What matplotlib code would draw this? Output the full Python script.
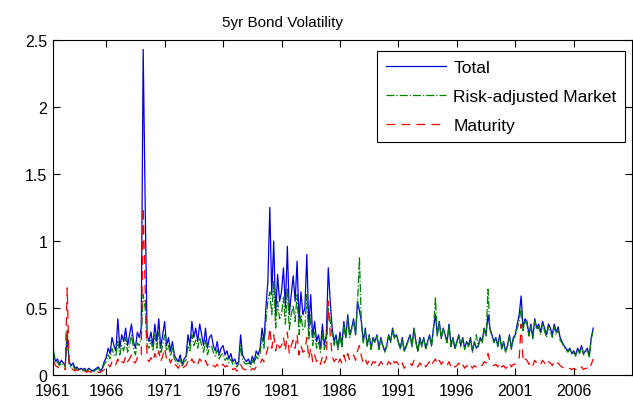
import numpy as np
import matplotlib
matplotlib.use("Agg")
import matplotlib.pyplot as plt
from matplotlib.ticker import FormatStrFormatter

# bimonthly readings, starting mid-1961 (first row is the second half of 1961)
total = [
    0.16, 0.10, 0.12,
    0.08, 0.11, 0.09, 0.07, 0.30, 0.10,
    0.07, 0.09, 0.05, 0.06, 0.04, 0.05,
    0.04, 0.05, 0.03, 0.05, 0.04, 0.03,
    0.04, 0.05, 0.06, 0.03, 0.05, 0.10,
    0.13, 0.20, 0.16, 0.28, 0.22, 0.18,
    0.42, 0.20, 0.30, 0.25, 0.35, 0.22,
    0.30, 0.38, 0.25, 0.20, 0.32, 0.28,
    0.35, 2.43, 1.30, 0.30, 0.25, 0.32,
    0.22, 0.38, 0.25, 0.42, 0.20, 0.30,
    0.40, 0.22, 0.28, 0.18, 0.25, 0.15,
    0.12, 0.10, 0.15, 0.08, 0.12, 0.14,
    0.30, 0.22, 0.40, 0.28, 0.35, 0.25,
    0.38, 0.30, 0.22, 0.35, 0.20, 0.28,
    0.30, 0.22, 0.18, 0.25, 0.15, 0.20,
    0.22, 0.15, 0.18, 0.12, 0.16, 0.10,
    0.12, 0.08, 0.10, 0.30, 0.15, 0.12,
    0.10, 0.12, 0.08, 0.14, 0.10, 0.18,
    0.15, 0.20, 0.35, 0.25, 0.50, 0.70,
    1.25, 0.60, 1.00, 0.45, 0.75, 0.55,
    0.62, 0.80, 0.50, 0.96, 0.45, 0.60,
    0.74, 0.55, 0.85, 0.40, 0.62, 0.45,
    0.50, 0.90, 0.35, 0.60, 0.28, 0.40,
    0.25, 0.30, 0.20, 0.38, 0.22, 0.30,
    0.80, 0.55, 0.35, 0.25, 0.30, 0.20,
    0.32, 0.22, 0.40, 0.28, 0.45, 0.30,
    0.35, 0.42, 0.30, 0.55, 0.48, 0.40,
    0.25, 0.35, 0.22, 0.30, 0.20, 0.28,
    0.25, 0.30, 0.20, 0.28, 0.22, 0.18,
    0.22, 0.30, 0.25, 0.35, 0.28, 0.30,
    0.25, 0.20, 0.28, 0.18, 0.22, 0.26,
    0.30, 0.22, 0.35, 0.25, 0.18, 0.28,
    0.22, 0.28, 0.20, 0.25, 0.30, 0.22,
    0.35, 0.45, 0.30, 0.40, 0.28, 0.35,
    0.30, 0.25, 0.38, 0.22, 0.28, 0.20,
    0.25, 0.30, 0.22, 0.28, 0.20, 0.25,
    0.22, 0.28, 0.18, 0.25, 0.20, 0.22,
    0.28, 0.25, 0.35, 0.30, 0.45, 0.35,
    0.30, 0.25, 0.28, 0.22, 0.30, 0.20,
    0.25, 0.18, 0.22, 0.30, 0.20, 0.28,
    0.30, 0.38, 0.45, 0.59, 0.35, 0.42,
    0.40, 0.30, 0.38, 0.28, 0.42, 0.35,
    0.38, 0.32, 0.40, 0.35, 0.30, 0.38,
    0.35, 0.30, 0.38, 0.32, 0.36, 0.28,
    0.25, 0.22, 0.20, 0.18, 0.20, 0.16,
    0.18, 0.15, 0.20, 0.17, 0.22, 0.16,
    0.18, 0.20, 0.14, 0.28, 0.35,
]

market = [
    0.18, 0.09, 0.10,
    0.07, 0.09, 0.07, 0.06, 0.34, 0.08,
    0.06, 0.07, 0.04, 0.05, 0.04, 0.04,
    0.03, 0.04, 0.03, 0.04, 0.03, 0.02,
    0.03, 0.04, 0.05, 0.03, 0.04, 0.08,
    0.10, 0.15, 0.12, 0.20, 0.15, 0.14,
    0.25, 0.15, 0.22, 0.18, 0.28, 0.17,
    0.22, 0.30, 0.20, 0.15, 0.24, 0.22,
    0.28, 0.60, 0.50, 0.22, 0.20, 0.26,
    0.18, 0.30, 0.20, 0.32, 0.16, 0.22,
    0.30, 0.18, 0.22, 0.14, 0.20, 0.12,
    0.10, 0.08, 0.12, 0.06, 0.10, 0.11,
    0.22, 0.18, 0.30, 0.22, 0.26, 0.20,
    0.28, 0.22, 0.17, 0.26, 0.15, 0.21,
    0.22, 0.17, 0.14, 0.19, 0.12, 0.15,
    0.16, 0.11, 0.13, 0.09, 0.12, 0.08,
    0.09, 0.06, 0.08, 0.22, 0.11, 0.09,
    0.08, 0.09, 0.06, 0.11, 0.08, 0.14,
    0.12, 0.16, 0.28, 0.20, 0.40, 0.55,
    0.62, 0.45, 0.70, 0.35, 0.55, 0.42,
    0.45, 0.58, 0.38, 0.65, 0.34, 0.45,
    0.52, 0.40, 0.60, 0.30, 0.45, 0.34,
    0.36, 0.60, 0.26, 0.45, 0.22, 0.32,
    0.20, 0.25, 0.17, 0.30, 0.19, 0.25,
    0.50, 0.40, 0.30, 0.22, 0.28, 0.19,
    0.30, 0.20, 0.38, 0.27, 0.42, 0.28,
    0.34, 0.40, 0.30, 0.52, 0.88, 0.38,
    0.24, 0.33, 0.21, 0.29, 0.19, 0.27,
    0.24, 0.29, 0.19, 0.27, 0.21, 0.17,
    0.21, 0.29, 0.24, 0.34, 0.27, 0.29,
    0.24, 0.19, 0.27, 0.17, 0.21, 0.25,
    0.29, 0.21, 0.34, 0.24, 0.17, 0.27,
    0.21, 0.27, 0.19, 0.24, 0.29, 0.21,
    0.34, 0.58, 0.29, 0.39, 0.27, 0.34,
    0.29, 0.24, 0.37, 0.21, 0.27, 0.19,
    0.24, 0.29, 0.21, 0.27, 0.19, 0.24,
    0.21, 0.27, 0.17, 0.24, 0.30, 0.21,
    0.27, 0.24, 0.34, 0.29, 0.64, 0.34,
    0.29, 0.24, 0.27, 0.21, 0.29, 0.19,
    0.24, 0.17, 0.21, 0.29, 0.19, 0.27,
    0.29, 0.35, 0.40, 0.50, 0.33, 0.40,
    0.38, 0.29, 0.36, 0.27, 0.40, 0.34,
    0.36, 0.30, 0.38, 0.33, 0.28, 0.36,
    0.33, 0.28, 0.36, 0.30, 0.34, 0.26,
    0.24, 0.21, 0.19, 0.17, 0.19, 0.15,
    0.17, 0.14, 0.19, 0.16, 0.21, 0.15,
    0.17, 0.19, 0.13, 0.27, 0.33,
]

maturity = [
    0.10, 0.07, 0.06,
    0.05, 0.06, 0.05, 0.04, 0.65, 0.06,
    0.05, 0.04, 0.03, 0.04, 0.03, 0.03,
    0.02, 0.03, 0.02, 0.03, 0.02, 0.02,
    0.02, 0.03, 0.02, 0.02, 0.03, 0.04,
    0.05, 0.08, 0.06, 0.10, 0.07, 0.08,
    0.12, 0.08, 0.10, 0.09, 0.14, 0.10,
    0.12, 0.15, 0.10, 0.09, 0.13, 0.12,
    0.15, 1.25, 0.65, 0.12, 0.10, 0.13,
    0.10, 0.16, 0.12, 0.18, 0.10, 0.14,
    0.20, 0.12, 0.14, 0.09, 0.12, 0.08,
    0.07, 0.05, 0.08, 0.05, 0.06, 0.07,
    0.10, 0.08, 0.12, 0.09, 0.11, 0.08,
    0.12, 0.10, 0.08, 0.11, 0.07, 0.09,
    0.09, 0.07, 0.06, 0.08, 0.05, 0.07,
    0.08, 0.06, 0.07, 0.05, 0.06, 0.04,
    0.05, 0.03, 0.04, 0.08, 0.05, 0.04,
    0.04, 0.05, 0.03, 0.05, 0.04, 0.06,
    0.06, 0.08, 0.12, 0.10, 0.15, 0.20,
    0.35, 0.20, 0.30, 0.18, 0.25, 0.20,
    0.22, 0.28, 0.18, 0.32, 0.16, 0.22,
    0.26, 0.20, 0.30, 0.15, 0.22, 0.17,
    0.18, 0.28, 0.12, 0.20, 0.10, 0.15,
    0.10, 0.12, 0.08, 0.14, 0.09, 0.12,
    0.55, 0.30, 0.14, 0.10, 0.12, 0.08,
    0.12, 0.09, 0.15, 0.10, 0.16, 0.11,
    0.12, 0.15, 0.11, 0.18, 0.22, 0.14,
    0.09, 0.12, 0.08, 0.11, 0.07, 0.10,
    0.09, 0.11, 0.07, 0.10, 0.08, 0.06,
    0.07, 0.10, 0.08, 0.12, 0.09, 0.10,
    0.08, 0.06, 0.09, 0.05, 0.07, 0.08,
    0.09, 0.07, 0.11, 0.08, 0.06, 0.09,
    0.07, 0.09, 0.06, 0.08, 0.10, 0.07,
    0.10, 0.12, 0.08, 0.11, 0.08, 0.10,
    0.09, 0.07, 0.10, 0.06, 0.08, 0.06,
    0.07, 0.09, 0.06, 0.08, 0.05, 0.07,
    0.06, 0.08, 0.05, 0.07, 0.06, 0.06,
    0.08, 0.07, 0.10, 0.09, 0.16, 0.10,
    0.08, 0.07, 0.08, 0.06, 0.09, 0.06,
    0.07, 0.05, 0.06, 0.09, 0.06, 0.08,
    0.08, 0.10, 0.12, 0.38, 0.10, 0.12,
    0.11, 0.08, 0.10, 0.07, 0.11, 0.09,
    0.10, 0.08, 0.11, 0.09, 0.07, 0.10,
    0.09, 0.07, 0.10, 0.08, 0.09, 0.07,
    0.06, 0.05, 0.05, 0.04, 0.05, 0.04,
    0.05, 0.04, 0.05, 0.04, 0.06, 0.04,
    0.05, 0.05, 0.04, 0.08, 0.12,
]

tick_years = [1961, 1966, 1971, 1976, 1981, 1986, 1991, 1996, 2001, 2006]

dates = 1961.5 + np.arange(len(total)) / 6.0

plt.rcParams['font.family'] = ['Liberation Sans', 'DejaVu Sans']

fig = plt.figure(figsize=(6.33, 4.06), dpi=100)
ax = fig.add_axes([0.0837, 0.0739, 0.915, 0.825])

ax.plot(dates, total, color=(0, 0, 0.85), lw=0.9, label='Total')
ax.plot(dates, market, color=(0, 0.5, 0), lw=0.9, ls='-.', label='Risk-adjusted Market')
ax.plot(dates, maturity, color=(0.95, 0, 0), lw=0.9, ls=(0, (7, 5)), label='Maturity')

ax.set_xlim(1961.45, 2011.0)
ax.set_ylim(0, 2.5)
tick_pos = [1961.45] + tick_years[1:]
ax.set_xticks(tick_pos)
ax.set_xticklabels([str(y) for y in tick_years])
ax.set_yticks([0, 0.5, 1, 1.5, 2, 2.5])
ax.yaxis.set_major_formatter(FormatStrFormatter('%g'))
ax.tick_params(direction='in', length=5, width=0.8, top=True, right=True,
               labelsize=11.5)
ax.tick_params(axis='x', pad=6)
ax.tick_params(axis='y', pad=4)
for s in ax.spines.values():
    s.set_linewidth(0.8)

# title sits left of the axes centre in the original (its figure was cropped)
ax.set_title('5yr Bond Volatility', fontsize=11, pad=10, x=0.397)

leg = ax.legend(loc='upper right', bbox_to_anchor=(0.988, 0.967), borderaxespad=0,
                fancybox=False, edgecolor='black', framealpha=1, fontsize=12.5,
                handlelength=3.5, handletextpad=0.4, labelspacing=0.8,
                borderpad=0.5)
leg.get_frame().set_linewidth(0.8)

fig.savefig('out.png', dpi=100)
